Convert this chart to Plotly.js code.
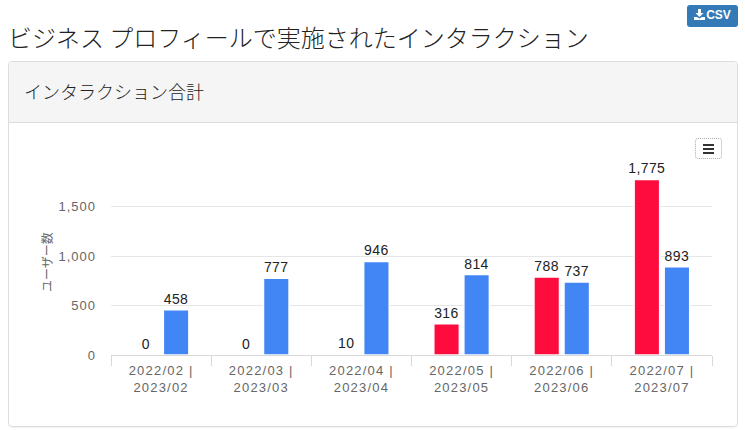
<!DOCTYPE html>
<html lang="ja">
<head>
<meta charset="utf-8">
<script src="https://cdn.plot.ly/plotly-3.0.1.min.js"></script>
<style>
  html,body{margin:0;padding:0;background:#fff;width:745px;height:430px;overflow:hidden;font-family:"Noto Sans CJK JP",sans-serif;color:#333;}
  #title{position:absolute;left:8px;top:20px;font-size:24px;font-weight:300;line-height:34px;white-space:nowrap;color:#222;}
  #csv{position:absolute;left:687px;top:5px;width:51px;height:22px;background:#337ab7;border-radius:3px;color:#fff;font:bold 12px/21px "Liberation Sans",sans-serif;text-align:center;white-space:nowrap;}
  #csv svg{vertical-align:-1px;margin-right:1px;}
  #card{position:absolute;left:8px;top:61px;width:728px;height:364px;border:1px solid #ddd;border-radius:4px;box-shadow:0 1px 1px rgba(0,0,0,.05);}
  #head{position:absolute;left:0;top:0;right:0;height:60px;background:#f5f5f5;border-bottom:1px solid #ddd;border-radius:3px 3px 0 0;}
  #head span{position:absolute;left:15px;top:15px;font-size:18px;font-weight:300;line-height:28px;color:#222;}
  #chart{position:absolute;left:0;top:0;width:745px;height:430px;}
  #chart .xtick text{letter-spacing:1.2px;}
  #chart .ytick text{letter-spacing:1px;}
  #chart text.bartext{letter-spacing:.4px;}
  #chart .g-ytitle{transform:translateY(-4px);}
  #menu{position:absolute;left:695px;top:138px;width:25px;height:19px;border:1px dotted #aaa;border-radius:3px;background:#fff;}
  #menu i{position:absolute;left:7px;width:11px;height:2px;background:#333;}
</style>
</head>
<body>
<div id="title">ビジネス プロフィールで実施されたインタラクション</div>
<div id="csv"><svg width="11" height="11" viewBox="0 0 11 11"><path d="M4 0h3v4h2.500L5.500 8 1.500 4H4zM0 8h3l2.500 1.500L8 8h3v3H0z" fill="#fff"/></svg>CSV</div>
<div id="card"><div id="head"><span>インタラクション合計</span></div></div>
<div id="chart"></div>
<div id="menu"><i style="top:5px"></i><i style="top:9px"></i><i style="top:13px"></i></div>
<script>
const categories = ["2022/02 |<br>2023/02","2022/03 |<br>2023/03","2022/04 |<br>2023/04","2022/05 |<br>2023/05","2022/06 |<br>2023/06","2022/07 |<br>2023/07"];
const series2022 = [0,0,10,316,788,1775];
const series2023 = [458,777,946,814,737,893];
const seriesNames = ["2022","2023"];
const tickValues = [0,500,1000,1500];
const tickLabels = ["0","500","1,000","1,500"];
const font = "'Liberation Sans', 'Noto Sans CJK JP', sans-serif";

function bar(name, y, color){
  return {type:"bar", name, x:categories, y,
    marker:{color, line:{color:"#fff", width:1.5}},
    texttemplate:"%{y:,}", textposition:"outside", cliponaxis:false, constraintext:"none",
    textfont:{family:font, size:14, color:"#222"}, hoverinfo:"skip"};
}
Plotly.newPlot("chart",[bar(seriesNames[0],series2022,"#FF0C3E"),bar(seriesNames[1],series2023,"#4285F4")],{
  width:745,height:430,
  paper_bgcolor:"rgba(0,0,0,0)",plot_bgcolor:"rgba(0,0,0,0)",
  margin:{l:111,r:32.5,t:176.5,b:74.7,pad:0},
  showlegend:false,barmode:"group",bargap:0.4,bargroupgap:0.15,
  xaxis:{type:"category",tickson:"boundaries",ticks:"outside",ticklen:10,tickcolor:"#d8d8d8",tickwidth:1,
    showline:true,linecolor:"#d8d8d8",linewidth:1,showgrid:false,zeroline:false,fixedrange:true,ticklabelstandoff:3,
    tickangle:0,tickfont:{family:font,size:13,color:"#666"}},
  yaxis:{range:[0,1800],tickmode:"array",tickvals:tickValues,ticktext:tickLabels,showgrid:true,gridcolor:"#e6e6e6",gridwidth:1,
    zeroline:false,showline:false,ticks:"",fixedrange:true,ticklabelstandoff:14,
    tickfont:{family:font,size:13,color:"#666"},
    title:{text:"ユーザー数",standoff:8,font:{family:"'Noto Sans CJK JP',sans-serif",size:12,color:"#666"}}}
},{displayModeBar:false,staticPlot:true});
</script>
</body>
</html>
